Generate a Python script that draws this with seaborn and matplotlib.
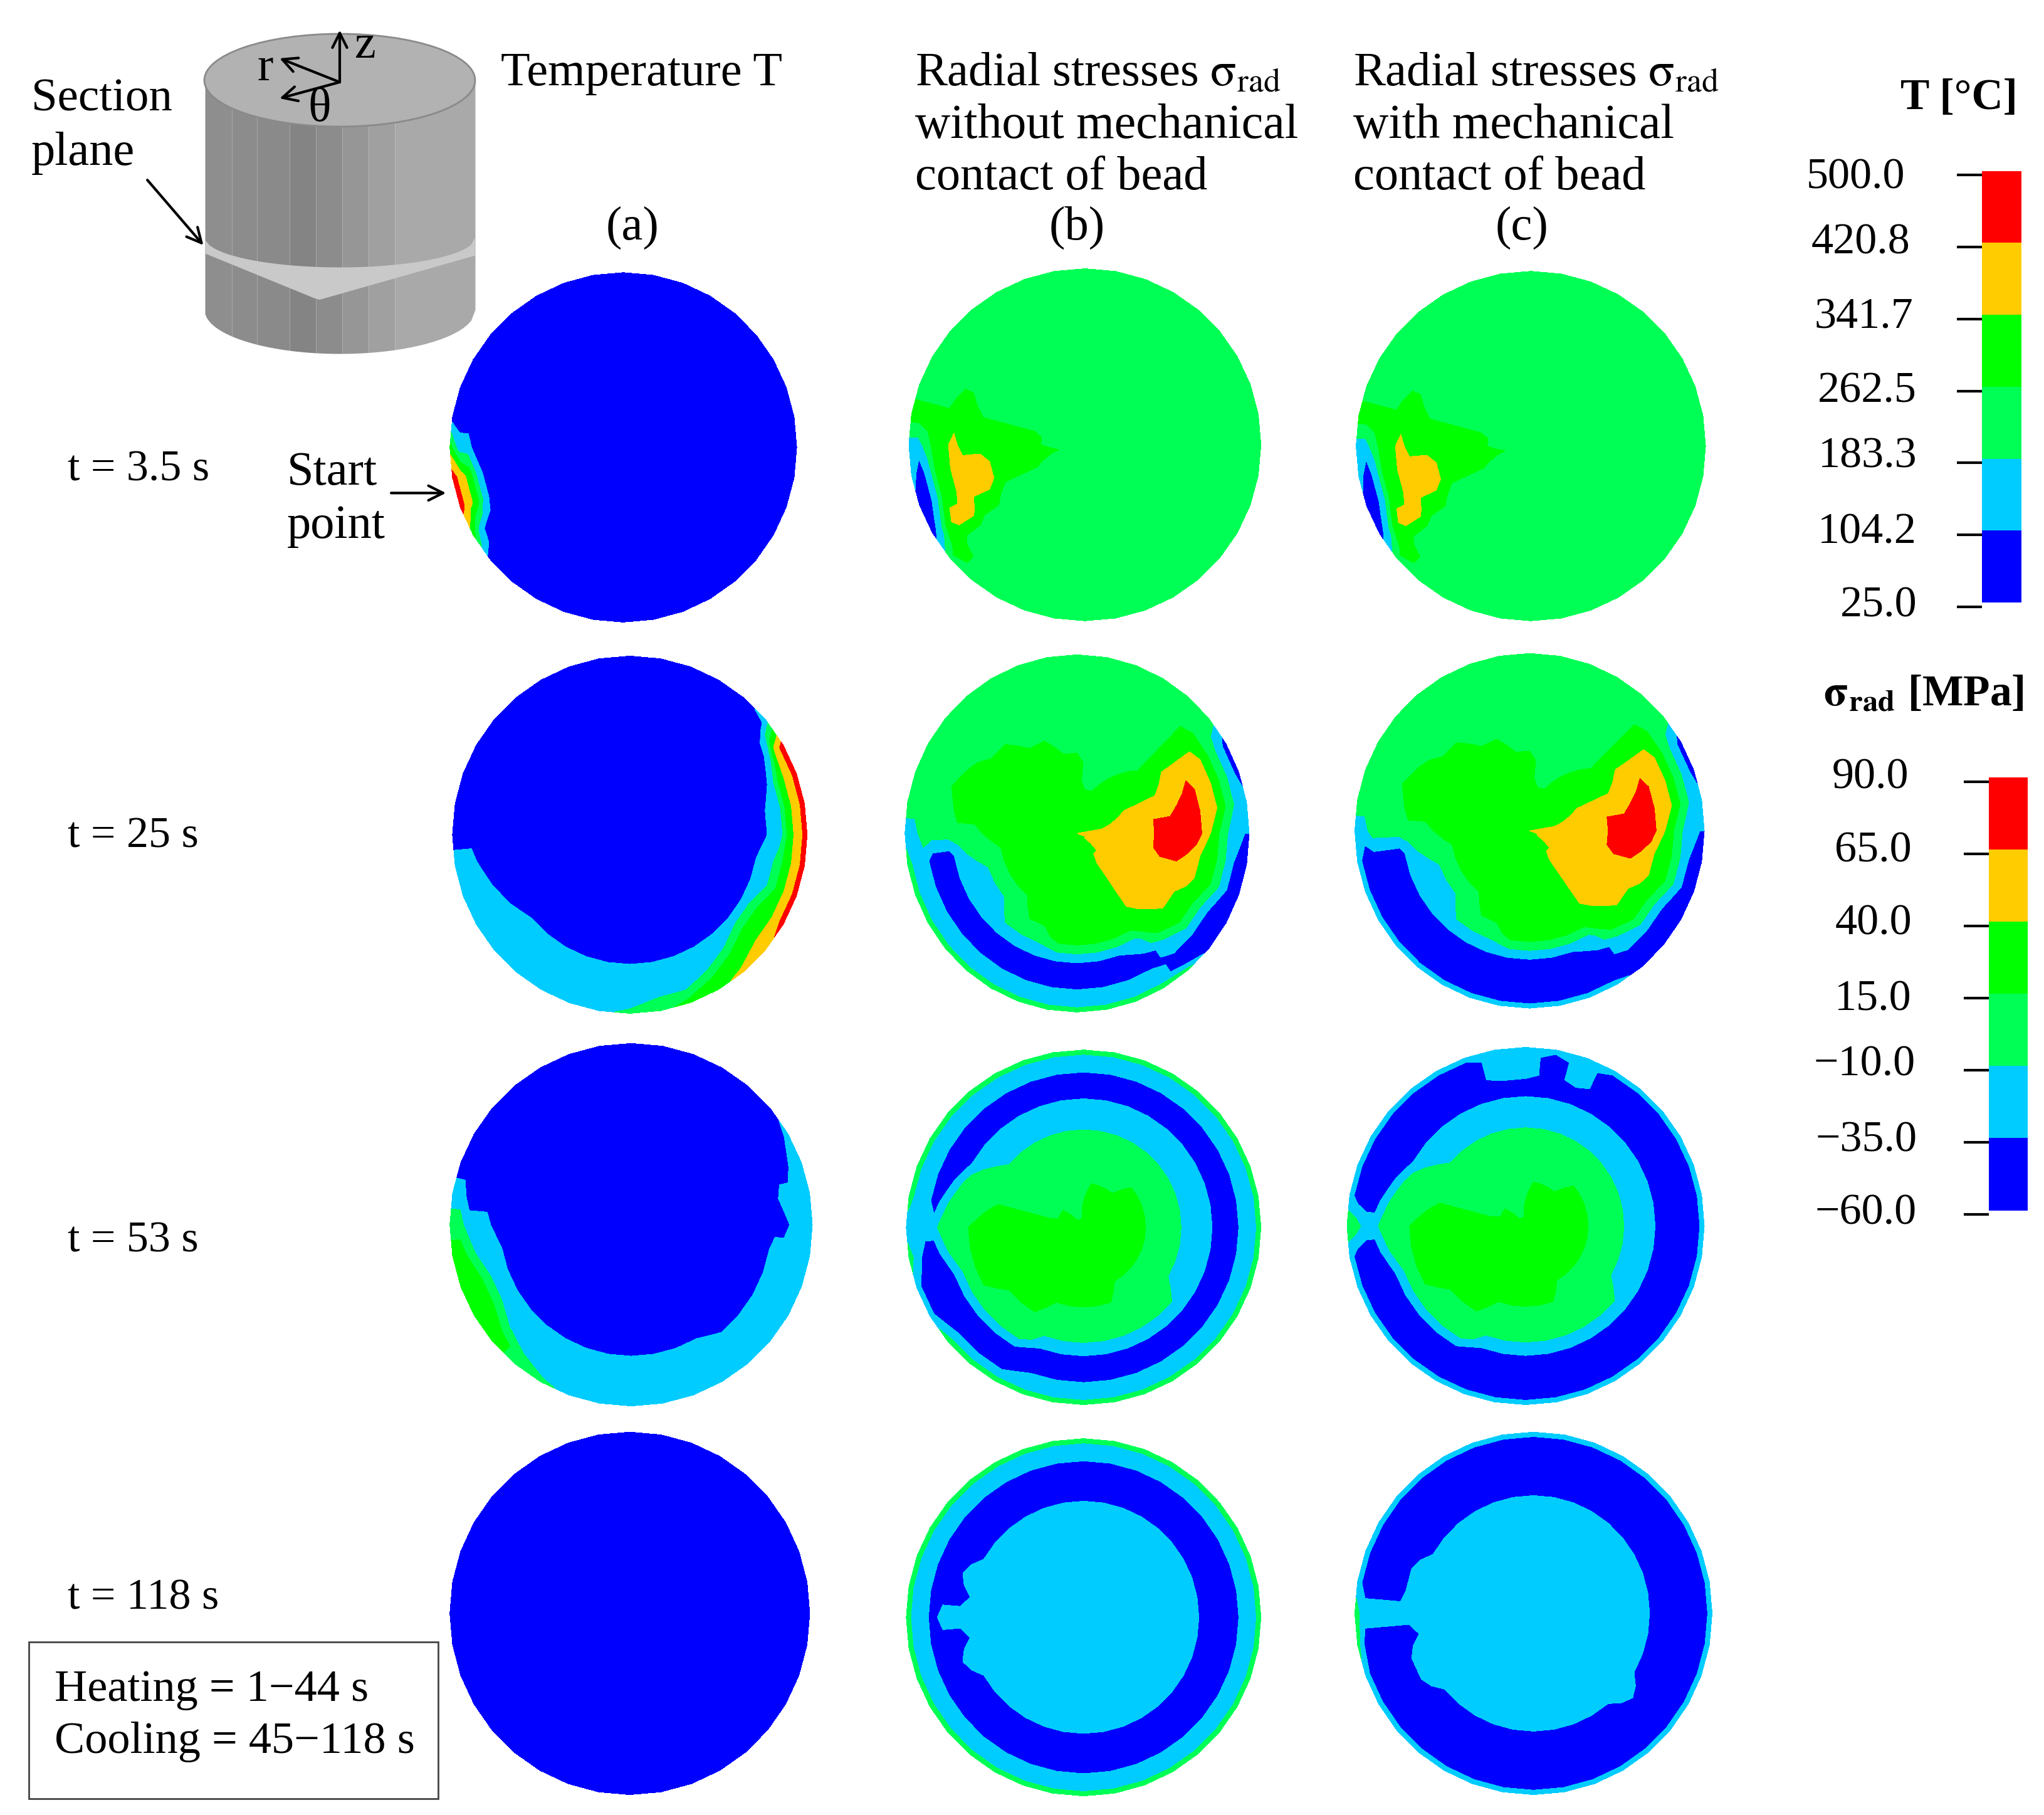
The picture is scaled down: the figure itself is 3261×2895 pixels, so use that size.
import numpy as np
import matplotlib
matplotlib.use('Agg')
import matplotlib.pyplot as plt
from matplotlib.colors import ListedColormap
from matplotlib.patches import Ellipse, Rectangle
import seaborn as sns

# band colours, coldest to hottest
BAND_COLORS = ['#0000ff', '#00ccff', '#00ff55', '#00ff00', '#ffcc00', '#ff0000']
T_TICKS = ['500.0', '420.8', '341.7', '262.5', '183.3', '104.2', '25.0']
S_TICKS = ['90.0', '65.0', '40.0', '15.0', '\u221210.0', '\u221235.0', '\u221260.0']
BAND_INDEX = [5, 4, 3, 2, 1, 0]

# polar field nodes: each string is one 10 deg sector (from east, anti-clockwise),
# each digit the colour band at one of these radii
RADII = [0, .1, .2, .3, .4, .5, .6, .7, .75, .8, .85, .9, .95, 1]
ANGLE_STEP = 10
ALL_BLUE = '00000000000000'

T_A1 = [(18, ALL_BLUE), (1, '00000000000113'), (2, '00000000001345'), (1, '00000000000013'), (14, ALL_BLUE)]
T_A2 = [(2, '00000000011345'), (1, '00000000001345'), (1, '00000000000145'), (1, '00000000000001'),
        (14, ALL_BLUE), (1, '00000000000111'), (1, '00000000001111'),
        (1, '00000000011111'), (5, '00000000111111'), (1, '00000000111112'), (1, '00000000111122'),
        (1, '00000000111123'), (1, '00000000111233'), (1, '00000000112334'), (1, '00000000123344'),
        (1, '00000000123345'), (2, '00000000112345')]
T_A3 = [(1, '00000000000111'), (1, '00000000001111'), (1, '00000000000011'), (1, '00000000000001'),
        (13, ALL_BLUE), (1, '00000000000011'), (1, '00000000011122'), (1, '00000000111233'),
        (2, '00000000112333'), (1, '00000000111233'), (1, '00000000111122'), (1, '00000000111112'),
        (6, '00000000111111'), (5, '00000000011111')]
T_A4 = [(36, ALL_BLUE)]

S_B1 = [(16, '22222222222222'), (1, '22222223322222'), (1, '22233333333333'), (1, '22233333433211'),
        (1, '22333344433101'), (1, '22233344433100'), (1, '22222233444310'), (1, '22222222222332'),
        (13, '22222222222222')]
S_C1 = S_B1

# upper half of the t = 25 s stress discs is the same with and without contact
S_2_UPPER = [(1, '44444555432111'), (1, '33444455443211'), (1, '33344445443210'), (1, '33333344443210'),
             (1, '33333333333222'), (1, '33333222222222'), (1, '33332222222222'), (2, '33322222222222'),
             (2, '33333222222222'), (2, '33333322222222'), (2, '33333332222222'), (1, '33333333222222'),
             (1, '33333333322222'), (1, '33333333222222'), (1, '33333322222211')]
S_B2 = S_2_UPPER + [(1, '33333221000112'), (3, '33333211000112'), (1, '33333221000112'), (2, '33333321000112'),
                    (4, '33333331000112'), (1, '33333331100112'), (1, '33444433211002'), (1, '33444443321000'),
                    (1, '34444443321000'), (1, '34444444332100'), (1, '44444554332100'), (1, '44444555432110')]
S_C2 = S_2_UPPER + [(1, '33333221000001'), (3, '33333211000001'), (1, '33333221000001'), (2, '33333321000001'),
                    (4, '33333331000001'), (1, '33333331100001'), (1, '33444433211000'), (1, '33444443321000'),
                    (1, '34444443321000'), (1, '34444444332100'), (1, '44444554332100'), (1, '44444555432110')]

S_B3 = [(5, '33332211000112'), (4, '33322211000112'), (1, '33222211000112'), (4, '32222211000112'),
        (1, '33222211000112'), (1, '33222221000112'), (1, '33222222100112'), (1, '33333322210112'),
        (1, '33333332221111'), (1, '33333332210012'), (2, '33333332100001'), (3, '33333322100012'),
        (5, '33333221000112'), (3, '33332221000112'), (3, '33332211000112')]
S_C3 = [(5, '33332211000001'), (2, '33322211000001'), (1, '33322211001111'), (1, '33322211000001'),
        (1, '33222211001111'), (1, '32222211001111'), (3, '32222211000001'), (1, '33222211000001'),
        (1, '33222221000001'), (1, '33222222100001'), (1, '33333322210001'), (1, '33333332221122'),
        (1, '33333332210001'), (2, '33333332100001'), (3, '33333322100001'), (5, '33333221000001'),
        (3, '33332221000001'), (3, '33332211000001')]

S_B4 = [(16, '11111110000112'), (1, '11111111000112'), (1, '11111110000112'), (1, '11111111110112'),
        (1, '11111110000112'), (1, '11111111000112'), (15, '11111110000112')]
S_C4 = [(16, '11111110000001'), (2, '11111111000001'), (1, '11111111111112'), (1, '11111110000002'),
        (2, '11111111000001'), (10, '11111110000001'), (1, '11111111000001'), (3, '11111110000001')]

# layout, in pixels of the shrunk 1568 wide view: field, centre x, centre y, radius x, radius y
DISCS = [
    (T_A1, 478, 343, 133, 134), (S_B1, 832, 341, 135, 135), (S_C1, 1174, 342, 134, 134),
    (T_A2, 483, 640, 136, 137), (S_B2, 826, 639, 132, 137), (S_C2, 1173, 637, 134, 136),
    (T_A3, 484, 939, 139, 139), (S_B3, 831, 941, 136, 136), (S_C3, 1170, 940, 137, 137),
    (T_A4, 483, 1237, 138, 139), (S_B4, 831, 1240, 136, 137), (S_C4, 1176, 1237, 137, 139),
]
W, H = 3262, 2895
SCALE = W / 1568

sns.set_theme(style='white')
plt.rcParams['font.family'] = ['Liberation Serif', 'DejaVu Serif']
plt.rcParams['mathtext.fontset'] = 'stix'
FS = 55
FS_NUM = 50.5

fig = plt.figure(figsize=(W / 100, H / 100), dpi=100)
ax = fig.add_axes([0, 0, 1, 1])
ax.set_xlim(0, W)
ax.set_ylim(H, 0)
ax.axis('off')


def label(x, y, s, **kw):
    kw.setdefault('fontsize', FS)
    kw.setdefault('va', 'center')
    kw.setdefault('color', 'black')
    ax.text(x * SCALE, (y + 4.5) * SCALE, s, **kw)


def draw_disc(rows, cx, cy, rx, ry):
    sectors = [s for n, s in rows for _ in range(n)]
    field = np.array([[int(c) for c in s] for s in sectors], dtype=float)
    field = np.vstack([field, field[0]])
    theta = np.radians(np.arange(field.shape[0]) * ANGLE_STEP)
    tt, rr = np.meshgrid(theta, np.array(RADII), indexing='ij')
    xx = SCALE * (cx + rx * rr * np.cos(tt))
    yy = SCALE * (cy - ry * rr * np.sin(tt))
    ax.contourf(xx, yy, field, levels=np.arange(-0.5, 6), colors=BAND_COLORS)


for d in DISCS:
    draw_disc(*d)

# cylinder sketch
cyl_x, cyl_rx = 542, 216
cyl_top, cyl_bot = 128, 494
facet_edges = [327, 370, 410, 462, 504, 546, 588, 630, 758]
facet_greys = ['#8e8e8e', '#8c8c8c', '#8a8a8a', '#848484', '#8c8c8c', '#969696', '#a0a0a0', '#a9a9a9']
for x0, x1, g in zip(facet_edges[:-1], facet_edges[1:], facet_greys):
    xs = np.linspace(x0, x1, 20)
    ys = cyl_bot + 70 * np.sqrt(np.clip(1 - ((xs - cyl_x) / cyl_rx) ** 2, 0, 1))
    ax.fill_between(xs, cyl_top, ys, color=g, lw=0)
band_x = np.linspace(327, 758, 60)
band_top = 378 + 48 * np.sqrt(np.clip(1 - ((band_x - cyl_x) / cyl_rx) ** 2, 0, 1))
band_low = np.interp(band_x, [327, 508, 758], [404, 478, 407])
ax.fill_between(band_x, band_top, band_low, where=band_low > band_top, color='#c9c9c9', lw=0)
ax.add_patch(Ellipse((cyl_x, cyl_top), 2 * cyl_rx, 148, fc='#b2b2b2', ec='#8a8a8a', lw=2))


def arrow(x0, y0, x1, y1, lw=3, ms=42):
    ax.annotate('', xy=(x1, y1), xytext=(x0, y0),
                arrowprops=dict(arrowstyle='->', lw=lw, color='black', mutation_scale=ms,
                                shrinkA=0, shrinkB=0))


arrow(542, 131, 542, 48)
arrow(542, 131, 446, 93)
arrow(542, 131, 446, 157)
ax.text(583, 73, 'z', fontsize=FS, va='center', ha='center', color='black')
ax.text(423, 109, 'r', fontsize=FS, va='center', ha='center', color='black')
ax.text(510, 174, '\u03b8', fontsize=FS, va='center', ha='center', color='black')

# headers
SIG = r'$\mathrm{\sigma}_{\mathrm{rad}}$'
label(24, 72, 'Section', fontsize=54)
label(24, 113, 'plane')
label(384, 52, 'Temperature T')
label(702, 52, 'Radial stresses ' + SIG)
label(702, 92, 'without mechanical', fontsize=56)
label(702, 132, 'contact of bead')
label(1038, 52, 'Radial stresses ' + SIG)
label(1038, 92, 'with mechanical', fontsize=56)
label(1038, 132, 'contact of bead')
for x, s in zip([485, 826, 1167], ['(a)', '(b)', '(c)']):
    label(x, 170, s, ha='center')
for y, s in zip([356, 637, 947, 1221], ['t = 3.5 s', 't = 25 s', 't = 53 s', 't = 118 s']):
    label(52, y, s, fontsize=FS_NUM)
label(220, 358, 'Start')
label(220, 399, 'point')
arrow(300 * SCALE, 378 * SCALE, 342 * SCALE, 378 * SCALE)
arrow(113 * SCALE, 138 * SCALE, 156 * SCALE, 188 * SCALE)

# time box
ax.add_patch(Rectangle((22 * SCALE, 1259 * SCALE), 314 * SCALE, 120 * SCALE, fc='white', ec='#444444', lw=2))
label(42, 1291, 'Heating = 1\u221244 s', fontsize=52)
label(42, 1331, 'Cooling = 45\u2212118 s', fontsize=52)


def colour_bar(x0, y0, x1, y1, ticks, label_right, label_y):
    unit = (y1 - y0) * SCALE / 6
    cax = fig.add_axes([x0 * SCALE / W, 1 - (y1 * SCALE + 0.1 * unit) / H,
                        (x1 - x0) * SCALE / W, (6.1 * unit) / H])
    sns.heatmap(np.array(BAND_INDEX).reshape(-1, 1), ax=cax, cmap=ListedColormap(BAND_COLORS),
                vmin=-0.5, vmax=5.5, cbar=False, xticklabels=False, yticklabels=False)
    cax.set_ylim(6.1, 0)
    cax.set_yticks(np.arange(7) + 0.06)
    cax.set_yticklabels([])
    cax.tick_params(axis='y', left=True, length=29, width=3, color='black')
    for sp in cax.spines.values():
        sp.set_visible(False)
    for r, y, s in zip(label_right, label_y, ticks):
        label(r, y, s, ha='right', fontsize=FS_NUM)


label(1547, 71, 'T [\u00b0C]', ha='right', fontweight='bold', fontsize=50)
colour_bar(1520, 131, 1550, 462, T_TICKS,
           [1461, 1465, 1467, 1470, 1470, 1470, 1470], [132, 182, 239, 296, 346, 404, 460])
label(1552, 528, r'$\mathbf{\sigma}_{\mathbf{rad}}$ [MPa]', ha='right', fontweight='bold', fontsize=50)
colour_bar(1525, 596, 1555, 928, S_TICKS,
           [1464, 1466, 1466, 1466, 1469, 1470, 1470], [592, 648, 704, 762, 812, 870, 926])

fig.savefig('out.png', dpi=100)
